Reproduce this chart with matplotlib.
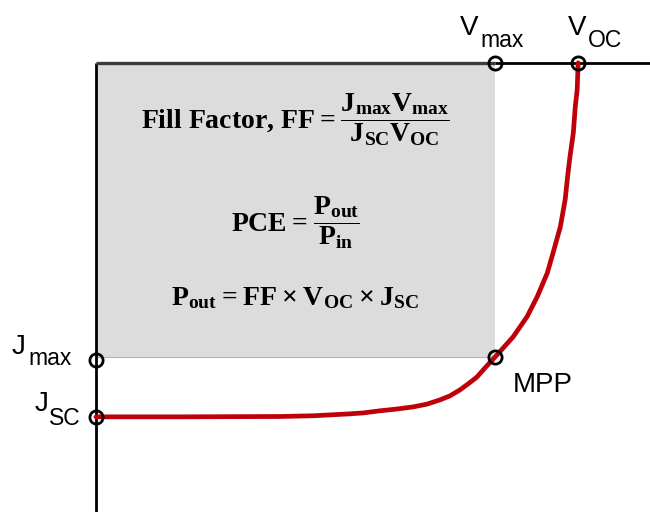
import numpy as np
import matplotlib
matplotlib.use("Agg")
import matplotlib.pyplot as plt
from matplotlib.patches import Rectangle

plt.rcParams['font.family'] = ['Liberation Sans', 'DejaVu Sans']
plt.rcParams['mathtext.default'] = 'regular'

# J-V curve, voltage normalised to Voc and current density to Jsc
voltage = [0.0, 0.174, 0.382, 0.450, 0.521, 0.554, 0.589, 0.624, 0.658, 0.687,
           0.714, 0.734, 0.755, 0.772, 0.790, 0.807, 0.828, 0.865, 0.894, 0.915,
           0.936, 0.948, 0.963, 0.973, 0.979, 0.983, 0.990, 0.994, 0.998, 1.0]
current = [-0.997, -0.997, -0.996, -0.994, -0.989, -0.986, -0.980, -0.975, -0.969, -0.961,
           -0.949, -0.938, -0.921, -0.904, -0.885, -0.859, -0.828, -0.772, -0.715, -0.659,
           -0.592, -0.535, -0.462, -0.386, -0.310, -0.265, -0.197, -0.124, -0.076, 0.0]

v_oc = 1.0
j_sc = -0.997
v_max = 0.828
j_max = -0.828

fig = plt.figure(figsize=(6.5, 5.12), dpi=100)
ax = fig.add_axes([0, 0, 1, 1])
ax.set_xlim(-0.199, 1.149)
ax.set_ylim(-1.265, 0.177)
ax.axis('off')

# maximum power rectangle
ax.add_patch(Rectangle((0, j_max), v_max, -j_max, facecolor='#dcdcdc', edgecolor='none', zorder=1))
ax.plot([0, v_max], [j_max, j_max], color='#b4b4b4', lw=0.8, zorder=1)

# axes lines
ax.plot([0, 0], [0, -1.265], color='black', lw=2, zorder=3, solid_capstyle='butt')
ax.plot([0, v_max], [0, 0], color='#3c3c3c', lw=2.4, zorder=3, solid_capstyle='butt')
ax.plot([v_max, 1.149], [0, 0], color='black', lw=2, zorder=3, solid_capstyle='butt')

# J-V curve
ax.plot(voltage, current, color='#c00008', lw=3.4, zorder=4,
        solid_capstyle='round', solid_joinstyle='round')

# key points
pts_v = [v_max, v_oc, 0, 0, v_max]
pts_j = [0, 0, j_max - 0.008, j_sc, j_max]
ax.plot(pts_v, pts_j, 'o', ms=9.5, mfc='none', mec='black', mew=2, zorder=5)

def label(x, y, main, sub, dx_main, dy_main, dx_sub, dy_sub):
    ax.annotate(main, (x, y), xytext=(dx_main, dy_main), textcoords='offset pixels',
                fontsize=20, va='baseline', ha='left', zorder=6)
    ax.annotate(sub, (x, y), xytext=(dx_sub, dy_sub), textcoords='offset pixels',
                fontsize=16.5, va='baseline', ha='left', zorder=6)

label(v_max, 0, 'V', 'max', -35, 28, -15, 16)
label(v_oc, 0, 'V', 'OC', -10, 28, 10, 16)
label(0, j_max, 'J', 'max', -84, 3, -68, -8)
label(0, j_sc, 'J', 'SC', -61, 6, -47, -8)
ax.annotate('MPP', (v_max, j_max), xytext=(18, -35), textcoords='offset pixels',
            fontsize=20, va='baseline', ha='left', zorder=6)

# equations in the box
eq_font = dict(fontsize=20, fontweight='bold', family='Liberation Serif', ha='center', va='center', zorder=6)
ax.text(v_max / 2, -0.161, r'Fill Factor, FF$ = \dfrac{J_{max}V_{max}}{J_{SC}V_{OC}}$', **eq_font)
ax.text(v_max / 2, -0.451, r'PCE$ = \dfrac{P_{out}}{P_{in}}$', **eq_font)
ax.text(v_max / 2, -0.662, r'$P_{out} = FF \times V_{OC} \times J_{SC}$', **eq_font)

fig.savefig('out.png', dpi=100)
